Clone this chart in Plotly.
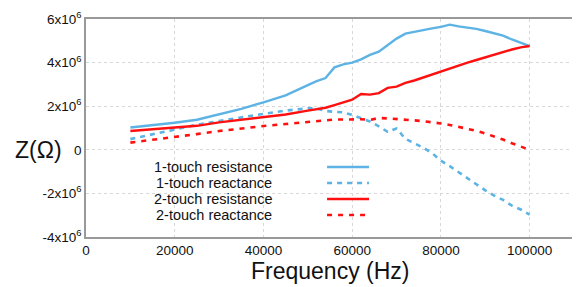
import plotly.graph_objects as go

freq = [10000, 15000, 20000, 25000, 30000, 35000, 40000, 45000, 50000, 52000, 54000,
        56000, 58000, 60000, 62000, 64000, 66000, 68000, 70000, 72000, 74000, 76000,
        78000, 80000, 82000, 84000, 86000, 88000, 90000, 92000, 94000, 96000, 98000, 100000]

one_touch_resistance = [1.02, 1.12, 1.24, 1.38, 1.63, 1.88, 2.18, 2.50, 2.97, 3.15, 3.29,
                        3.78, 3.92, 4.00, 4.15, 4.35, 4.50, 4.80, 5.10, 5.33, 5.42, 5.50,
                        5.57, 5.64, 5.74, 5.66, 5.62, 5.55, 5.45, 5.36, 5.24, 5.06, 4.90, 4.76]

one_touch_reactance = [0.49, 0.72, 0.95, 1.15, 1.32, 1.50, 1.65, 1.80, 1.90, 1.90, 1.78,
                       1.74, 1.72, 1.60, 1.46, 1.30, 1.08, 0.82, 0.98, 0.50, 0.30, 0.10,
                       -0.15, -0.50, -0.75, -1.03, -1.31, -1.58, -1.86, -2.10, -2.30, -2.56, -2.74, -2.97]

two_touch_resistance = [0.86, 0.93, 1.01, 1.10, 1.26, 1.38, 1.50, 1.62, 1.80, 1.88, 1.93,
                        2.05, 2.17, 2.30, 2.56, 2.53, 2.60, 2.84, 2.90, 3.07, 3.18, 3.32,
                        3.46, 3.60, 3.72, 3.86, 4.00, 4.12, 4.24, 4.38, 4.50, 4.60, 4.70, 4.76]

two_touch_reactance = [0.33, 0.45, 0.59, 0.72, 0.86, 0.98, 1.09, 1.18, 1.28, 1.32, 1.36,
                       1.39, 1.39, 1.41, 1.40, 1.37, 1.46, 1.44, 1.42, 1.39, 1.35, 1.31,
                       1.27, 1.21, 1.14, 1.06, 0.96, 0.87, 0.75, 0.62, 0.47, 0.30, 0.15, 0.00]

series_names = ["1-touch resistance", "1-touch reactance", "2-touch resistance", "2-touch reactance"]

y_tick_vals = [-4e6, -2e6, 0, 2e6, 4e6, 6e6]
y_tick_text = ["-4x10<sup>6</sup>", "-2x10<sup>6</sup>", "0", "2x10<sup>6</sup>",
               "4x10<sup>6</sup>", "6x10<sup>6</sup>"]
x_tick_vals = [0, 20000, 40000, 60000, 80000, 100000]

BLUE = "#5cb3e4"
RED = "#ff1010"
FONT = "Liberation Sans, Arial, Helvetica, sans-serif"

series = [one_touch_resistance, one_touch_reactance, two_touch_resistance, two_touch_reactance]
colors = [BLUE, BLUE, RED, RED]
dashes = ["solid", "5px,5px", "solid", "5px,6px"]
widths = [2.4, 2.6, 2.4, 2.6]

fig = go.Figure()
for name, vals, c, d, w in zip(series_names, series, colors, dashes, widths):
    fig.add_trace(go.Scatter(
        x=freq, y=[v * 1e6 for v in vals], mode="lines", name=name,
        line=dict(color=c, dash=d, width=w), showlegend=False))

# custom legend: text right-aligned, line samples on the right
leg_y = [0.321, 0.248, 0.174, 0.101]
for name, c, d, w, yy in zip(series_names, colors, dashes, widths, leg_y):
    fig.add_annotation(x=0.383, y=yy, xref="paper", yref="paper", text=name,
                       showarrow=False, xanchor="right", yanchor="middle", align="right",
                       borderpad=0, font=dict(size=14.5, color="#111", family=FONT))
    fig.add_shape(type="line", xref="paper", yref="paper", x0=0.494, x1=0.580,
                  y0=yy, y1=yy, line=dict(color=c, dash=d, width=w))

fig.add_annotation(x=-0.098, y=0.399, xref="paper", yref="paper", text="Z(Ω)",
                   showarrow=False, xanchor="center", yanchor="middle",
                   font=dict(size=23, color="#111", family=FONT))

fig.add_annotation(x=0.5, y=-0.156, xref="paper", yref="paper", text="Frequency (Hz)",
                   showarrow=False, xanchor="center", yanchor="middle",
                   font=dict(size=23, color="#111", family=FONT))

# page body has an 8px margin, so the figure is sized/offset to compensate
fig.update_layout(
    width=572, height=279,
    margin=dict(l=78, r=6, t=11, b=50),
    paper_bgcolor="white", plot_bgcolor="white",
    font=dict(family=FONT, color="#111"),
)
fig.update_xaxes(
    range=[0, 110000], tickvals=x_tick_vals, ticktext=[str(v) for v in x_tick_vals],
    tickfont=dict(size=13.5), showgrid=True, gridcolor="#d8d8d8", griddash="dot",
    gridwidth=1, showline=True, linecolor="#999", linewidth=1.5, mirror=True,
    zeroline=False, ticks="", automargin=False, ticklabeloverflow="allow",
)
fig.update_yaxes(
    range=[-4e6, 6e6], tickvals=y_tick_vals, ticktext=y_tick_text,
    tickfont=dict(size=13.5), showgrid=True, gridcolor="#d8d8d8", griddash="dot",
    gridwidth=1, showline=True, linecolor="#999", linewidth=1.5, mirror=True,
    zeroline=False, ticks="", automargin=False, ticklabeloverflow="allow",
)

fig.write_html("out.html")
